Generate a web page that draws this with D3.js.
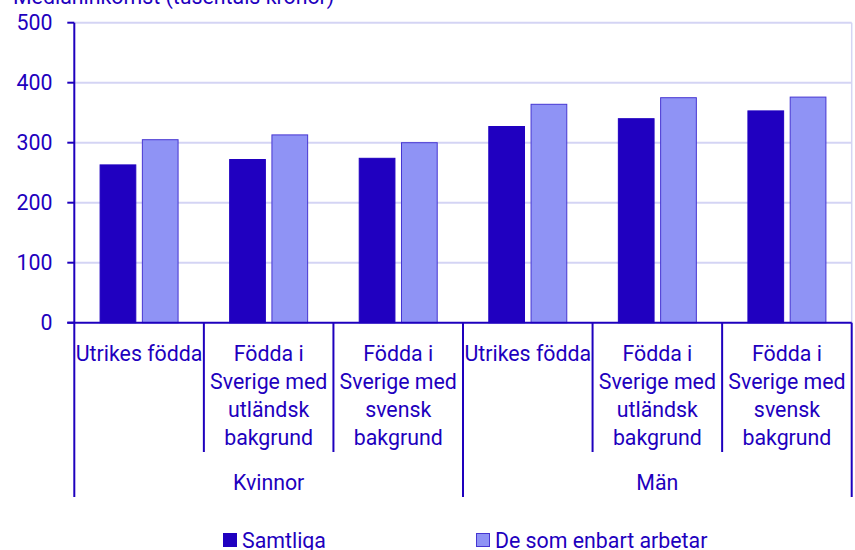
<!DOCTYPE html>
<html>
<head>
<meta charset="utf-8">
<script src="https://cdn.jsdelivr.net/npm/d3@7"></script>
<style>
	body { margin: 0; background: #fff; }
	text { font-family: Roboto, "Noto Sans", sans-serif; fill: #1e00be; }
</style>
</head>
<body>
<div id="chart"></div>
<script>
// Values (tusentals kronor)
const groups = ["Kvinnor", "Män"];
const categoryLines = [
	["Utrikes födda"],
	["Födda i", "Sverige med", "utländsk", "bakgrund"],
	["Födda i", "Sverige med", "svensk", "bakgrund"]
];
const seriesNames = ["Samtliga", "De som enbart arbetar"];
const samtliga = [263, 272, 274, 327, 340, 353];
const enbart = [305, 313, 300, 364, 375, 376];
const yTicks = [0, 100, 200, 300, 400, 500];
const yTitle = "Medianinkomst (tusentals kronor)";

const width = 855;
const height = 550;
const plotLeft = 74.3, plotRight = 851.7, plotTop = 22.7, plotBottom = 322.7;
const fontSize = 21.33;
const blue = "#1e00be";
const colors = ["#2000c0", "#8f93f5"];
const strokes = ["#2000c0", "#4636d2"];

// one row per bar group: gender x category
const rows = [];
groups.forEach((g, gi) => {
	categoryLines.forEach((lines, ci) => {
		const i = gi * categoryLines.length + ci;
		rows.push({ key: i, group: g, lines: lines, values: [samtliga[i], enbart[i]] });
	});
});

const svg = d3.select("#chart")
	.append("svg")
	.attr("width", width)
	.attr("height", height);

const x0 = d3.scaleBand()
	.domain(rows.map(d => d.key))
	.range([plotLeft, plotRight])
	.padding(0);

const x1 = d3.scaleBand()
	.domain([0, 1])
	.range([0, x0.bandwidth()])
	.paddingInner(0.155)
	.paddingOuter(0.61);

const y = d3.scaleLinear()
	.domain([0, 500])
	.range([plotBottom, plotTop]);

// gridlines
svg.append("g")
	.selectAll("line")
	.data(yTicks.slice(1))
	.enter()
	.append("line")
	.attr("x1", plotLeft)
	.attr("x2", plotRight)
	.attr("y1", d => y(d))
	.attr("y2", d => y(d))
	.attr("stroke", "#d4d4f4")
	.attr("stroke-width", 2);

svg.append("line")
	.attr("x1", plotRight).attr("x2", plotRight)
	.attr("y1", plotTop).attr("y2", plotBottom)
	.attr("stroke", "#d4d4f4")
	.attr("stroke-width", 1.5);

// bars
svg.append("g")
	.selectAll("g")
	.data(rows)
	.enter()
	.append("g")
	.attr("transform", d => `translate(${x0(d.key)},0)`)
	.selectAll("rect")
	.data(d => d.values.map((v, s) => ({ s: s, v: v })))
	.enter()
	.append("rect")
	.attr("x", d => x1(d.s))
	.attr("width", x1.bandwidth())
	.attr("y", d => y(d.v))
	.attr("height", d => y(0) - y(d.v))
	.attr("fill", d => colors[d.s])
	.attr("stroke", d => strokes[d.s])
	.attr("stroke-width", 1);

// y axis
const yAxis = svg.append("g");
yAxis.append("line")
	.attr("x1", plotLeft).attr("x2", plotLeft)
	.attr("y1", plotTop).attr("y2", plotBottom)
	.attr("stroke", blue)
	.attr("stroke-width", 2);

yAxis.selectAll(".tick")
	.data(yTicks)
	.enter()
	.append("line")
	.attr("class", "tick")
	.attr("x1", plotLeft - 7)
	.attr("x2", plotLeft)
	.attr("y1", d => y(d))
	.attr("y2", d => y(d))
	.attr("stroke", blue)
	.attr("stroke-width", 2);

yAxis.selectAll("text")
	.data(yTicks)
	.enter()
	.append("text")
	.attr("x", 52.5)
	.attr("y", d => y(d))
	.attr("dy", "0.35em")
	.attr("text-anchor", "end")
	.attr("font-size", fontSize)
	.text(d => d);

svg.append("text")
	.attr("x", 13)
	.attr("y", 3.5)
	.attr("font-size", fontSize)
	.text(yTitle);

// x axis baseline
svg.append("line")
	.attr("x1", plotLeft - 7).attr("x2", plotRight)
	.attr("y1", plotBottom).attr("y2", plotBottom)
	.attr("stroke", blue)
	.attr("stroke-width", 2);

// category separators
const sepX = rows.map(d => x0(d.key)).concat([plotRight]);
svg.append("g")
	.selectAll("line")
	.data(sepX)
	.enter()
	.append("line")
	.attr("x1", d => d)
	.attr("x2", d => d)
	.attr("y1", plotBottom)
	.attr("y2", (d, i) => i % categoryLines.length === 0 ? 497 : 452)
	.attr("stroke", blue)
	.attr("stroke-width", 2);

// category labels
svg.append("g")
	.selectAll("text")
	.data(rows)
	.enter()
	.append("text")
	.attr("text-anchor", "middle")
	.attr("font-size", fontSize)
	.attr("transform", d => `translate(${x0(d.key) + x0.bandwidth() / 2},361)`)
	.selectAll("tspan")
	.data(d => d.lines)
	.enter()
	.append("tspan")
	.attr("x", 0)
	.attr("y", (d, i) => i * 28)
	.text(d => d);

// group labels
const groupWidth = x0.bandwidth() * categoryLines.length;
svg.append("g")
	.selectAll("text")
	.data(groups)
	.enter()
	.append("text")
	.attr("x", (d, i) => plotLeft + groupWidth * i + groupWidth / 2)
	.attr("y", 490)
	.attr("text-anchor", "middle")
	.attr("font-size", fontSize)
	.text(d => d);

// legend
const legendX = [223, 476];
const legend = svg.append("g")
	.selectAll("g")
	.data(seriesNames)
	.enter()
	.append("g")
	.attr("transform", (d, i) => `translate(${legendX[i]},533)`);

legend.append("rect")
	.attr("x", 0.5)
	.attr("y", 0.5)
	.attr("width", 13)
	.attr("height", 13)
	.attr("fill", (d, i) => colors[i])
	.attr("stroke", (d, i) => strokes[i]);

legend.append("text")
	.attr("x", 19)
	.attr("y", 14.5)
	.attr("font-size", fontSize)
	.text(d => d);
</script>
</body>
</html>
